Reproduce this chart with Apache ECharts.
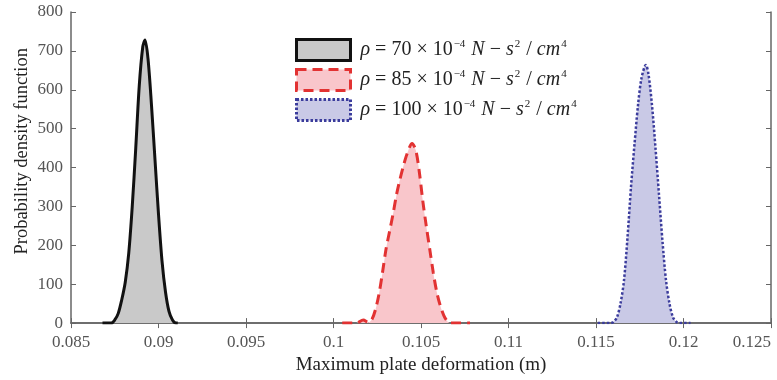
<!DOCTYPE html>
<html><head><meta charset="utf-8">
<script src="https://cdn.jsdelivr.net/npm/echarts@6/dist/echarts.min.js"></script>
<style>html,body{margin:0;padding:0;background:#fff}#c{width:777px;height:380px}</style>
</head><body><div id="c"></div>
<script>
// x: maximum plate deformation (m), y: probability density
const rho70 = [[0.0868,0],[0.0873,0],[0.0875,8],[0.0877,25],[0.0879,60],[0.0881,105],[0.0883,180],[0.0885,300],[0.0887,450],[0.0889,610],[0.0891,710],[0.08923,728],[0.0894,680],[0.0896,560],[0.0898,420],[0.0900,280],[0.0902,160],[0.0904,80],[0.0906,30],[0.0908,8],[0.0910,0],[0.0911,0]];
const rho85 = [[0.1005,0],[0.1013,0],[0.1017,8],[0.1020,2],[0.1022,10],[0.1024,35],[0.1026,75],[0.1028,130],[0.1030,190],[0.1032,235],[0.1034,280],[0.1036,330],[0.1038,370],[0.1040,405],[0.1042,435],[0.10449,462],[0.1047,445],[0.1049,390],[0.1051,315],[0.1053,250],[0.1055,190],[0.1057,130],[0.1059,80],[0.1061,45],[0.1063,20],[0.1065,5],[0.1067,0],[0.1078,0]];
const rho100 = [[0.1151,0],[0.1158,0],[0.1160,3],[0.1162,15],[0.1164,50],[0.1166,110],[0.1168,220],[0.1170,350],[0.1172,460],[0.1174,560],[0.1176,630],[0.11785,664],[0.1180,640],[0.1182,560],[0.1184,450],[0.1186,330],[0.1188,210],[0.1190,110],[0.1192,50],[0.1194,15],[0.1196,3],[0.1198,0],[0.1204,0]];
const seriesNames = ['rho70','rho85','rho100'];
const legendLabels = {
  rho70: '{i|ρ} = 70 × 10{s|−4} {i|N} − {i|s}{s|2} / {i|cm}{s|4}',
  rho85: '{i|ρ} = 85 × 10{s|−4} {i|N} − {i|s}{s|2} / {i|cm}{s|4}',
  rho100: '{i|ρ} = 100 × 10{s|−4} {i|N} − {i|s}{s|2} / {i|cm}{s|4}'
};
const xTitle = 'Maximum plate deformation (m)';
const yTitle = 'Probability density function';
const xMin = 0.085, xMax = 0.125, xStep = 0.005;
const yMin = 0, yMax = 800, yStep = 100;

const serif = '"Liberation Serif","Times New Roman",serif';
const axisCol = '#666';
const chart = echarts.init(document.getElementById('c'));
const fmt = v => String(parseFloat(Number(v).toFixed(4)));
const styles = {
  rho70: {line:'#111', type:'solid', w:3, fill:'#c9c9c9'},
  rho85: {line:'#e23232', type:[10,6], w:3, fill:'#f9c6cb'},
  rho100: {line:'#3b3c9c', type:[2.5,2], w:2.5, fill:'#c9c9e6'}
};
const datas = {rho70, rho85, rho100};
chart.setOption({
  animation:false,
  grid:{left:71, right:6, top:12, bottom:56},
  graphic:[{type:'text', left:13, top:48, rotation:Math.PI/2,
    style:{text:yTitle, fontFamily:serif, fontSize:18.5, fill:'#222'}}],
  legend:{
    orient:'vertical', left:295, top:38, padding:0, itemWidth:54, itemHeight:21, itemGap:6,
    data: seriesNames.map(n=>({name:n, icon:'rect', itemStyle:{color:styles[n].fill, borderColor:styles[n].line, borderWidth:3, borderType:styles[n].type}})),
    formatter: n => legendLabels[n],
    textStyle:{fontFamily:serif, fontSize:20, color:'#222', padding:[0,0,0,5], lineHeight:22,
      rich:{i:{fontFamily:serif, fontStyle:'italic', fontSize:20, color:'#222', lineHeight:22},
            s:{fontFamily:serif, fontSize:11, color:'#222', verticalAlign:'top', lineHeight:22, padding:[0,1,10,1]}}}
  },
  xAxis:[{type:'value', min:xMin, max:xMax, interval:xStep,
    axisLine:{show:true, lineStyle:{color:axisCol, width:1.5}},
    axisTick:{inside:true, length:5, lineStyle:{color:axisCol}},
    splitLine:{show:false},
    axisLabel:{formatter:fmt, fontFamily:serif, fontSize:17, color:'#555', margin:11, alignMaxLabel:'right'},
    name:xTitle, nameLocation:'middle', nameGap:27,
    nameTextStyle:{fontFamily:serif, fontSize:19, color:'#222', verticalAlign:'top'}},
   {type:'value', position:'top', min:xMin, max:xMax, interval:xStep,
    axisLine:{show:true, lineStyle:{color:axisCol, width:1.5}},
    axisTick:{inside:true, length:5, lineStyle:{color:axisCol}},
    axisLabel:{show:false}, splitLine:{show:false}}],
  yAxis:[{type:'value', min:yMin, max:yMax, interval:yStep,
    axisLine:{show:true, lineStyle:{color:axisCol, width:1.5}},
    axisTick:{show:true, inside:true, length:5, lineStyle:{color:axisCol}},
    splitLine:{show:false},
    axisLabel:{fontFamily:serif, fontSize:17, color:'#555', margin:8}},
   {type:'value', position:'right', min:yMin, max:yMax, interval:yStep,
    axisLine:{show:true, lineStyle:{color:axisCol, width:1.5}},
    axisTick:{show:true, inside:true, length:5, lineStyle:{color:axisCol}},
    axisLabel:{show:false}, splitLine:{show:false}}],
  series: seriesNames.map(n=>({
    name:n, type:'line', data:datas[n], symbol:'none', smooth:0.3,
    lineStyle:{color:styles[n].line, width:styles[n].w, type:styles[n].type},
    itemStyle:{color:styles[n].fill, borderColor:styles[n].line},
    areaStyle:{color:styles[n].fill, opacity:1}
  }))
});
</script></body></html>
